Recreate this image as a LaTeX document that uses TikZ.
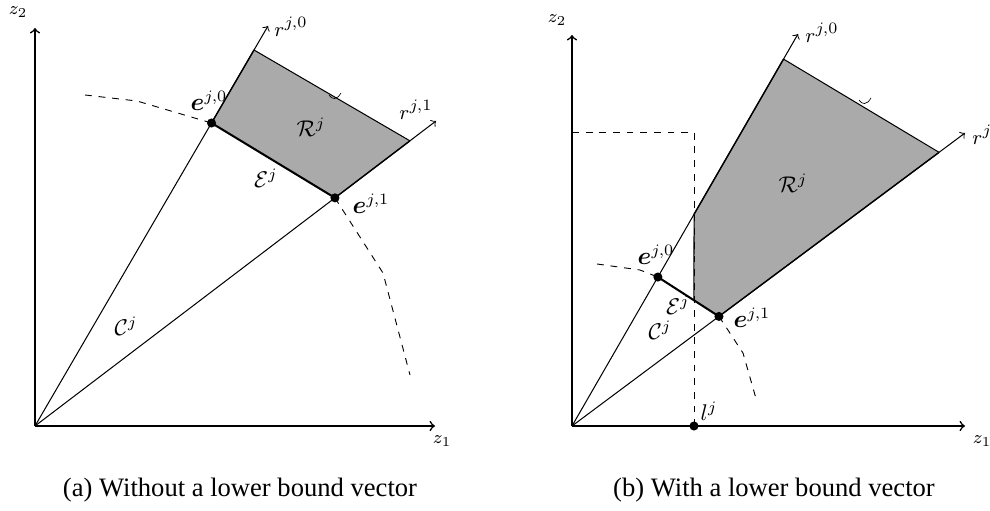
\documentclass[tikz,border=0pt]{standalone}
\usepackage{fontspec}
\setmainfont{Liberation Serif}
\usepackage{amsmath}
\usetikzlibrary{calc}
\definecolor{regiongray}{RGB}{170,170,170}
\begin{document}
\begin{tikzpicture}[x=0.44pt,y=-0.44pt,
  axisline/.style={line width=0.7pt,->},
  rayline/.style={line width=0.45pt,->},
  thinline/.style={line width=0.45pt},
  edgeline/.style={line width=0.6pt},
  boldedge/.style={line width=0.9pt},
  boundline/.style={line width=0.4pt,dashed,dash pattern=on 3pt off 3pt},
  dotmark/.style={circle,fill=black,inner sep=0pt,minimum size=4pt},
  axlabel/.style={inner sep=0pt,font=\fontsize{8.5}{10}\selectfont},
  raylabel/.style={inner sep=0pt,font=\fontsize{9.5}{11}\selectfont},
  ptlabel/.style={inner sep=0pt,font=\fontsize{10.5}{12}\selectfont},
  setlabel/.style={inner sep=0pt,font=\fontsize{10}{12}\selectfont},
  captext/.style={inner sep=0pt,font=\fontsize{11.7}{14}\selectfont},
  tick/.style={line width=0.3pt}
]
\useasboundingbox (0,0) rectangle (990,511);

% ================= Panel (a) =================
\coordinate (O1) at (35,426);
\coordinate (Y1) at (35,28);
\coordinate (X1) at (435,426);
\coordinate (T10) at (268,26);
\coordinate (T11) at (436,121);
\coordinate (E10) at ($(O1)!0.7575!(T10)$);
\coordinate (A1) at ($(O1)!0.94!(T10)$);
\coordinate (E11) at ($(O1)!0.748!(T11)$);
\coordinate (B1) at ($(O1)!0.935!(T11)$);

\fill[regiongray] (E10) -- (A1) -- (B1) -- (E11) -- cycle;
\draw[axisline] (O1) -- (Y1);
\draw[axisline] (O1) -- (X1);
\draw[rayline] (O1) -- (T10);
\draw[rayline] (O1) -- (T11);
\draw[edgeline] (E10) -- (A1);
\draw[thinline] (A1) -- (B1);
\draw[edgeline] (B1) -- (E11);
\draw[boldedge] (E10) -- (E11);
\draw[boundline] (85,95) -- (137,101) -- (E10);
\draw[boundline] (E11) -- (383,273) -- (410,375);
\draw[tick] (329,95) .. controls (332,100) and (337,100) .. (341,93);

\node[dotmark] (d10) at (E10) {};
\node[dotmark] (d11) at (E11) {};

\node[axlabel] (z2a) at (18,12) {$z_2$};
\node[axlabel] (z1a) at (442,441) {$z_1$};
\node[raylabel] (r0a) at (291,27) {$r^{j,0}$};
\node[raylabel] (r1a) at (416,110) {$r^{j,1}$};
\node[ptlabel] (e0a) at (209,101) {$\boldsymbol{e}^{j,0}$};
\node[ptlabel] (e1a) at (371,204) {$\boldsymbol{e}^{j,1}$};
\node[setlabel] (Ra) at (311,127) {$\mathcal{R}^j$};
\node[setlabel] (Ea) at (266,178) {$\mathcal{E}^j$};
\node[setlabel] (Ca) at (126,326) {$\mathcal{C}^j$};
\node[captext] (capa) at (240,490) {(a) Without a lower bound vector};

% ================= Panel (b) =================
\coordinate (O2) at (572,426);
\coordinate (Y2) at (572,35);
\coordinate (X2) at (965,426);
\coordinate (T20) at (798,34);
\coordinate (T21) at (965,133);
\coordinate (E20) at ($(O2)!0.38!(T20)$);
\coordinate (A2) at ($(O2)!0.936!(T20)$);
\coordinate (E21) at ($(O2)!0.374!(T21)$);
\coordinate (B2) at ($(O2)!0.934!(T21)$);
\coordinate (L2) at (694,426);
\coordinate (Ltop) at (694,132);
\coordinate (Lleft) at (572,132);
\coordinate (P2) at ($(O2)!0.54!(T20)$);
\coordinate (Q2) at ($(E20)!0.59!(E21)$);

\fill[regiongray] (P2) -- (A2) -- (B2) -- (E21) -- (Q2) -- cycle;
\draw[axisline] (O2) -- (Y2);
\draw[axisline] (O2) -- (X2);
\draw[rayline] (O2) -- (T20);
\draw[rayline] (O2) -- (T21);
\draw[edgeline] (P2) -- (A2);
\draw[thinline] (A2) -- (B2);
\draw[edgeline] (B2) -- (E21);
\draw[boldedge] (E20) -- (E21);
\draw[thinline] (P2) -- (Q2);
\draw[boundline] (L2) -- (Ltop) -- (Lleft);
\draw[boundline] (597,264) -- (640,270) -- (E20);
\draw[boundline] (E21) -- (743,353) -- (757,402);
\draw[tick] (859,100) .. controls (862,105) and (867,105) .. (871,98);

\node[dotmark] (d20) at (E20) {};
\node[dotmark] (d21) at (E21) {};
\node[dotmark] (dl) at (L2) {};

\node[axlabel] (z2b) at (557,20) {$z_2$};
\node[axlabel] (z1b) at (982,441) {$z_1$};
\node[raylabel] (r0b) at (822,33) {$r^{j,0}$};
\node[raylabel,anchor=west] (r1b) at (972,135) {$r^{j,1}$};
\node[ptlabel] (e0b) at (656,255) {$\boldsymbol{e}^{j,0}$};
\node[ptlabel] (e1b) at (752,318) {$\boldsymbol{e}^{j,1}$};
\node[setlabel] (Rb) at (793,183) {$\mathcal{R}^j$};
\node[setlabel] (Eb) at (678,305) {$\mathcal{E}^j$};
\node[setlabel] (Cb) at (660,330) {$\mathcal{C}^j$};
\node[setlabel] (lb) at (709,411) {$l^j$};
\node[captext] (capb) at (774,490) {(b) With a lower bound vector};
\end{tikzpicture}
\end{document}
